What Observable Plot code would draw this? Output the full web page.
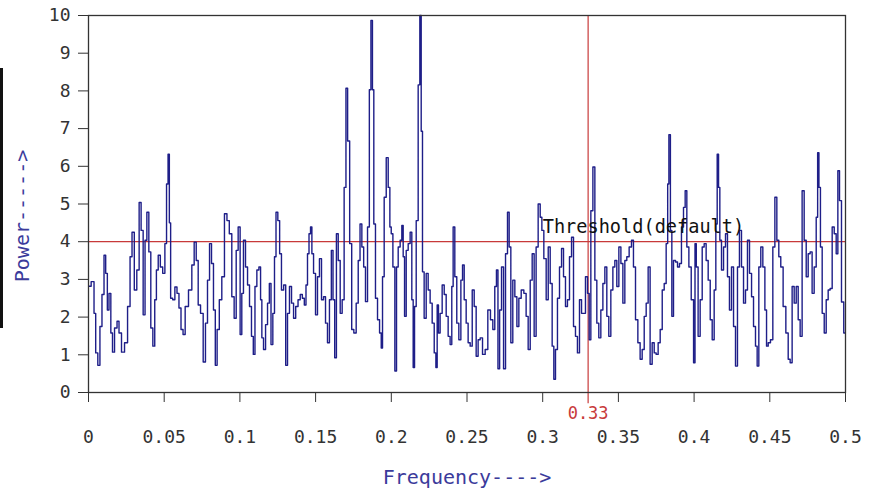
<!DOCTYPE html>
<html><head><meta charset="utf-8">
<script src="https://cdn.jsdelivr.net/npm/d3@7"></script>
<script src="https://cdn.jsdelivr.net/npm/@observablehq/plot@0.6"></script>
<style>
body{margin:0;background:#fff;}
#wrap{position:relative;width:872px;height:498px;}
#bar{position:absolute;left:0;top:68px;width:3px;height:260px;background:#111;}
</style></head><body><div id="wrap"><div id="bar"></div></div>
<script>
const freq = [
0.0004,0.0031,0.0042,0.0053,0.0070,0.0081,0.0097,0.0108,0.0119,0.0130,0.0141,0.0154,0.0163,0.0181,0.0196,0.0207,0.0229,0.0247,0.0269,0.0280,0.0295,0.0310,0.0328,0.0341,0.0354,0.0368,0.0379,0.0392,0.0405,0.0418,0.0432,0.0443,0.0454,0.0467,0.0482,0.0498,0.0511,0.0520,0.0531,0.0537,0.0548,0.0564,0.0577,0.0592,0.0603,0.0619,0.0630,0.0647,0.0674,0.0691,0.0705,0.0718,0.0731,0.0749,0.0766,0.0779,0.0793,0.0806,0.0819,0.0832,0.0843,0.0856,0.0872,0.0889,0.0907,0.0922,0.0938,0.0955,0.0969,0.0982,
0.0995,0.1008,0.1017,0.1030,0.1044,0.1057,0.1070,0.1083,0.1094,0.1105,0.1119,0.1132,0.1141,0.1149,0.1163,0.1176,0.1189,0.1200,0.1211,0.1224,0.1233,0.1244,0.1257,0.1268,0.1281,0.1297,0.1308,0.1321,0.1334,0.1348,0.1361,0.1376,0.1392,0.1405,0.1420,0.1431,0.1442,0.1451,0.1462,0.1471,0.1480,0.1493,0.1506,0.1519,0.1532,0.1546,0.1559,0.1572,0.1585,0.1598,0.1610,0.1620,0.1632,0.1643,0.1656,0.1669,0.1682,0.1695,0.1706,0.1717,0.1733,0.1744,0.1761,0.1775,0.1788,0.1799,0.1812,0.1823,0.1836,0.1850,0.1860,0.1871,0.1880,0.1889,0.1902,0.1916,0.1929,0.1938,0.1946,0.1960,0.1973,0.1986,
0.1995,0.2004,0.2017,0.2030,0.2039,0.2052,0.2065,0.2074,0.2083,0.2092,0.2105,0.2118,0.2131,0.2140,0.2149,0.2158,0.2171,0.2184,0.2193,0.2202,0.2210,0.2224,0.2237,0.2250,0.2263,0.2277,0.2290,0.2299,0.2307,0.2316,0.2329,0.2343,0.2356,0.2369,0.2382,0.2395,0.2404,0.2413,0.2426,0.2439,0.2453,0.2466,0.2475,0.2488,0.2501,0.2514,0.2528,0.2541,0.2554,0.2567,0.2580,0.2594,0.2611,0.2629,0.2646,0.2664,0.2677,0.2690,0.2699,0.2710,0.2721,0.2735,0.2748,0.2761,0.2774,0.2783,0.2796,0.2809,0.2823,0.2836,0.2849,0.2867,0.2884,0.2897,0.2911,0.2924,0.2937,0.2950,0.2963,0.2977,0.2990,
0.2999,0.3016,0.3030,0.3043,0.3056,0.3069,0.3078,0.3091,0.3104,0.3118,0.3131,0.3144,0.3157,0.3170,0.3184,0.3197,0.3210,0.3223,0.3236,0.3250,0.3263,0.3276,0.3289,0.3303,0.3311,0.3325,0.3338,0.3351,0.3364,0.3377,0.3391,0.3404,0.3417,0.3430,0.3443,0.3457,0.3470,0.3483,0.3496,0.3510,0.3523,0.3536,0.3549,0.3562,0.3580,0.3593,0.3606,0.3620,0.3637,0.3650,0.3664,0.3677,0.3690,0.3703,0.3716,0.3730,0.3743,0.3756,0.3769,0.3783,0.3796,0.3809,0.3822,0.3829,0.3838,0.3849,0.3857,0.3871,0.3884,0.3897,0.3910,0.3923,0.3937,0.3945,0.3959,0.3972,0.3990,0.4003,
0.4009,0.4020,0.4033,0.4047,0.4060,0.4073,0.4086,0.4100,0.4113,0.4126,0.4139,0.4148,0.4157,0.4166,0.4174,0.4188,0.4201,0.4214,0.4227,0.4240,0.4254,0.4267,0.4280,0.4293,0.4306,0.4320,0.4333,0.4346,0.4359,0.4373,0.4386,0.4399,0.4412,0.4421,0.4434,0.4447,0.4461,0.4474,0.4483,0.4496,0.4513,0.4527,0.4540,0.4553,0.4566,0.4579,0.4597,0.4615,0.4628,0.4641,0.4654,0.4668,0.4681,0.4694,0.4707,0.4720,0.4734,0.4747,0.4760,0.4773,0.4786,0.4800,0.4813,0.4819,0.4830,0.4839,0.4853,0.4866,0.4879,0.4892,0.4905,0.4919,0.4932,0.4945,0.4954,0.4967,0.4980,0.4997
];
const power = [
2.82,2.94,2.1,1.05,0.72,1.75,2.6,3.64,3.16,2.19,2.63,1.58,1.07,1.71,1.89,1.58,1.07,1.32,2.28,3.6,4.25,2.72,3.25,5.04,4.3,2.06,4.04,4.78,3.73,1.71,1.23,2.46,3.25,3.64,3.33,3.16,3.95,5.53,6.32,4.5,2.5,2.46,2.8,2.63,2.24,1.67,1.54,2.28,2.72,3.38,3.99,3.5,2.32,2.1,0.81,1.84,2.98,3.95,3.42,2.19,0.72,1.67,2.46,3.07,4.74,4.56,4.21,2.54,1.97,3.77,
4.39,1.54,2.63,4.04,3.33,2.85,2.28,1.49,1.01,2.81,3.25,3.33,2.46,1.45,1.14,1.8,2.37,2.89,1.27,2.1,3.6,4.78,4.56,3.68,2.72,2.85,0.72,2.1,2.81,2.37,1.97,2.28,2.46,2.6,2.5,2.32,2.85,3.68,4.21,4.39,3.68,3.16,2.06,3.07,3.55,2.46,2.54,1.84,1.32,2.46,3.77,2.46,0.92,4.21,3.5,2.1,2.46,5.44,8.07,6.67,3.95,1.67,1.58,2.37,3.5,4.47,3.86,3.33,2.41,4.39,8.03,9.87,8.03,4.47,2.5,1.93,1.58,1.18,3.07,5.18,6.23,5.44,
4.39,4.21,3.33,0.57,3.33,3.86,4.04,4.43,3.6,2.02,3.77,3.95,4.25,2.46,0.66,2.28,4.56,8.16,10,6.93,3.2,1.97,3.16,2.72,2.37,1.84,1.05,0.66,2.32,1.58,2.1,2.85,2.6,2.02,1.49,1.27,2.81,4.39,3.07,1.84,1.4,2.98,3.38,2.46,1.84,1.32,1.23,2.72,2.28,0.96,1.4,1.45,1.01,1.14,2.19,1.93,1.67,2.81,3.25,0.63,2.19,3.33,0.63,3.68,4.78,3.86,1.32,2.98,2.54,1.75,2.5,2.72,2.63,2.02,1.14,2.98,3.68,1.49,3.86,5.0,4.65,
4.3,3.55,2.46,3.86,2.89,1.23,0.35,1.14,2.5,3.33,3.82,3.07,2.28,2.46,3.6,4.12,1.75,1.49,1.05,2.46,2.1,2.1,3.07,2.63,1.4,4.82,5.98,2.98,1.84,1.45,2.19,2.89,3.33,2.02,1.49,2.72,3.33,3.5,2.81,3.86,3.42,2.37,3.5,3.6,3.86,4.04,3.33,1.93,1.32,0.88,1.14,2.02,2.37,3.33,0.75,1.32,1.05,1.01,1.32,1.67,2.72,2.89,3.95,5.53,6.84,4.3,2.02,3.5,3.46,3.33,3.42,4.39,4.91,5.35,3.86,3.33,2.46,0.79,
3.95,3.33,1.49,2.46,3.86,3.95,3.5,2.98,1.93,1.4,2.72,4.47,6.32,5.44,4.04,3.25,3.86,4.21,3.07,2.19,3.33,1.75,0.7,3.33,4.3,3.33,2.37,2.72,4.04,3.16,2.54,1.75,1.23,0.7,3.33,3.86,3.33,2.19,1.23,1.32,1.4,3.86,5.18,4.04,3.6,3.33,2.28,1.58,0.88,0.79,2.81,2.37,2.81,1.93,1.49,5.35,4.04,3.07,3.68,3.73,2.63,3.33,4.65,6.36,5.44,3.86,2.1,1.58,2.46,2.72,2.76,4.39,4.21,3.68,5.88,5.09,2.4,1.58
];
const yTicks = [0,1,2,3,4,5,6,7,8,9,10];
const xTicks = [0,0.05,0.1,0.15,0.2,0.25,0.3,0.35,0.4,0.45,0.5];
const xTickLabels = ["0","0.05","0.1","0.15","0.2","0.25","0.3","0.35","0.4","0.45","0.5"];
const threshold = 4;
const thresholdLabel = "Threshold(default)";
const thresholdLabelFreq = 0.3;
const markerFreq = 0.33;
const markerLabel = "0.33";
const xTitle = "Frequency---->";
const yTitle = "Power----->";

const data = freq.map((f, i) => ({f, p: power[i]}));
const red = "#c83a3a";
const mono = "DejaVu Sans Mono";

const chart = Plot.plot({
  width: 872, height: 498,
  marginLeft: 88, marginRight: 27, marginTop: 15, marginBottom: 106,
  style: {fontFamily: mono, fontSize: "18px", color: "#333", background: "transparent", overflow: "visible"},
  x: {domain: [0, 0.5]},
  y: {domain: [0, 10]},
  marks: [
    Plot.ruleY([threshold], {stroke: red, strokeWidth: 1.2}),
    Plot.ruleX([markerFreq], {x: d => d, y1: 10, y2: -0.3, stroke: red, strokeWidth: 1.2}),
    Plot.line(data, {x: "f", y: "p", stroke: "#1e1e88", strokeWidth: 1.4, curve: "step"}),
    Plot.frame({stroke: "#333", strokeWidth: 1.3}),
    Plot.axisY({ticks: yTicks, tickSize: 10, tickPadding: 8, label: null, stroke: "#333", fontSize: 18}),
    Plot.axisX({ticks: xTicks, tickSize: 10, tickPadding: 28, label: null, stroke: "#333", fontSize: 18,
      tickFormat: d => xTickLabels[xTicks.indexOf(d)]}),
    Plot.text([{f: thresholdLabelFreq, p: threshold}], {x: "f", y: "p", text: () => thresholdLabel,
      textAnchor: "start", dy: -15, fill: "#111", fontSize: 18.6, fontFamily: mono}),
    Plot.text([{f: markerFreq, p: 0}], {x: "f", y: "p", text: () => markerLabel,
      dy: 21, fill: red, fontSize: 17, fontFamily: mono}),
    Plot.text([xTitle], {frameAnchor: "bottom", dy: 91, fill: "#3b3b9b", fontSize: 20, fontFamily: mono}),
    Plot.text([yTitle], {frameAnchor: "left", textAnchor: "middle", dx: -66, dy: 12, rotate: -90, fill: "#3b3b9b", fontSize: 20, fontFamily: mono})
  ]
});
document.getElementById("wrap").appendChild(chart);
</script>
</body></html>
